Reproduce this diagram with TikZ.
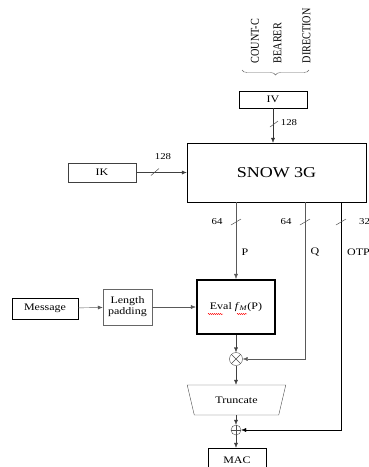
\documentclass[tikz,border=0pt]{standalone}
\usepackage{fontspec}
\setmainfont[FakeStretch=1.2]{Liberation Serif}
\newfontfamily\plainserif[FakeStretch=0.85]{Liberation Serif}
\usetikzlibrary{arrows.meta,shapes.geometric,decorations.pathreplacing,decorations.pathmorphing}
\begin{document}
\begin{tikzpicture}[x=1pt,y=-1pt,
  box/.style={draw, rectangle, inner sep=0pt, font=\fontsize{10}{12}\selectfont},
  arr/.style={-{Latex[length=5pt,width=4pt]}},
  lbl/.style={font=\fontsize{9}{10}\selectfont, inner sep=0pt},
  sig/.style={font=\fontsize{10}{11}\selectfont, inner sep=0pt},
  vert/.style={font=\plainserif\fontsize{12}{13}\selectfont, inner sep=0pt, rotate=90, anchor=west},
  gline/.style={draw=black!65},
  slash/.style={draw=black!70, line width=0.5pt},
  opcirc/.style={draw=black!70, circle, inner sep=0pt, minimum size=#1}
]
\useasboundingbox (0,0) rectangle (369,467);
% inputs on top
\node[vert] (countc) at (255,63.5) {COUNT-C};
\node[vert] (bearer) at (277.5,63.5) {BEARER};
\node[vert] (direction) at (306.5,63.5) {DIRECTION};
\draw[draw=black!60, decorate, decoration={brace, amplitude=5pt, mirror}] (242,70) -- (309,70);
% boxes
\node[box, minimum width=68pt, minimum height=17pt] (iv) at (273,99.5) {IV};
\node[box, minimum width=179pt, minimum height=59pt, font=\fontsize{15}{17}\selectfont] (snow) at (276.5,172.5) {SNOW 3G};
\node[box, draw=black!75, minimum width=68pt, minimum height=19pt] (ik) at (102,172.5) {IK};
\node[box, minimum width=78pt, minimum height=54pt, line width=2.2pt] (eval) at (236,307) {Eval \textit{f}\textsubscript{\textit{M}}(P)};
\node[box, minimum width=66pt, minimum height=21pt] (msg) at (45,308.5) {Message};
\node[box, draw=black!60, minimum width=49pt, minimum height=36pt, align=center, font=\fontsize{10}{11}\selectfont] (lp) at (127.5,307) {Length\\padding};
\node[opcirc=13pt] (mult) at (236,359) {};
\draw[black!70] (mult.north west) -- (mult.south east) (mult.north east) -- (mult.south west);
\node[draw=black!70, trapezium, trapezium angle=62, trapezium stretches=true, shape border rotate=180, minimum width=99pt, minimum height=30pt, inner sep=0pt, font=\fontsize{10}{12}\selectfont] (trunc) at (236.5,400) {Truncate};
\node[opcirc=10pt] (xor) at (236,430) {};
\draw[black!70] (xor.north) -- (xor.south) (xor.west) -- (xor.east);
\node[box, minimum width=58pt, minimum height=28pt] (mac) at (237,462) {};
\node[sig, font=\fontsize{10}{12}\selectfont] (mactext) at (237,460) {MAC};
% red squiggles (spell-check marks)
\draw[red, line width=0.4pt, decorate, decoration={snake, amplitude=0.6pt, segment length=2pt}] (208,314) -- (223,314);
\draw[red, line width=0.4pt, decorate, decoration={snake, amplitude=0.6pt, segment length=2pt}] (237,314) -- (247,314);
% connectors
\draw[arr, black!80] (iv) -- (snow.north -| iv);
\draw[slash] (270,127) -- (278,121);
\node[lbl] (l128a) at (289,123) {128};
\draw[arr, black!75] (ik) -- (snow);
\draw[slash] (151,175.5) -- (159,168.5);
\node[lbl] (l128b) at (163,157) {128};
\coordinate (qtop) at (305,202);
\coordinate (otptop) at (341,202);
\draw[arr, gline] (snow.south -| eval.north) -- (eval.north);
\draw[gline, arr] (qtop) |- (mult.east);
\draw[arr] (otptop) |- (xor.east);
\draw[slash] (231,225) -- (241,219);
\draw[slash] (300,225) -- (310,219);
\draw[slash] (336,225) -- (346,219);
\node[lbl] (l64a) at (217,222) {64};
\node[lbl] (l64b) at (286,222) {64};
\node[lbl, anchor=west] (l32) at (359,222) {32};
\node[sig] (pl) at (245,252) {P};
\node[sig] (ql) at (315,252) {Q};
\node[sig, anchor=west] (otpl) at (347,252) {OTP};
\draw[arr, gline] (msg) -- (lp);
\draw[arr, gline] (lp) -- (eval);
\draw[arr, black!75] (eval) -- (mult);
\draw[arr, black!75] (mult) -- (trunc.north -| mult);
\draw[arr, black!75] (trunc.south -| xor) -- (xor);
\draw[arr, black!75] (xor) -- (mac.north -| xor);
\end{tikzpicture}
\end{document}
